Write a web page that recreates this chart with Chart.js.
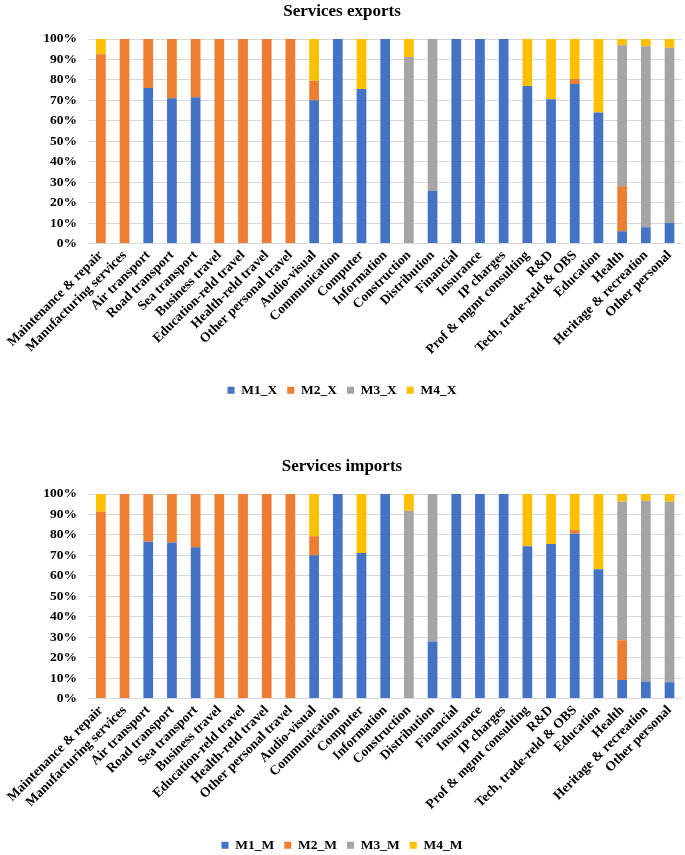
<!DOCTYPE html>
<html>
<head>
<meta charset="utf-8">
<script src="https://cdn.jsdelivr.net/npm/chart.js@4"></script>
<style>
  html, body { margin: 0; padding: 0; background: #fff; overflow: hidden; }
  body { width: 685px; height: 855px; position: relative; }
  .box { position: absolute; left: 0; width: 685px; height: 407px; }
</style>
</head>
<body>
<div class="box" style="top:0px"><canvas id="c1" width="685" height="407"></canvas></div>
<div class="box" style="top:455px"><canvas id="c2" width="685" height="407"></canvas></div>
<script>
const categories = [
  "Maintenance & repair", "Manufacturing services", "Air transport", "Road transport",
  "Sea transport", "Business travel", "Education-reld travel", "Health-reld travel",
  "Other personal travel", "Audio-visual", "Communication", "Computer", "Information",
  "Construction", "Distribution", "Financial", "Insurance", "IP charges",
  "Prof & mgmt consulting", "R&D", "Tech, trade-reld & OBS", "Education", "Health",
  "Heritage & recreation", "Other personal"
];

// Services exports shares (%)
const M1_X = [0, 0, 76, 71, 71.5, 0, 0, 0, 0, 70, 100, 75.6, 100, 0, 25.7, 100, 100, 100, 77, 70.5, 78, 64, 6, 8, 10];
const M2_X = [92.5, 100, 24, 29, 28.5, 100, 100, 100, 100, 9.6, 0, 0, 0, 0, 0, 0, 0, 0, 0, 0, 2.5, 0, 22, 0, 0];
const M3_X = [0, 0, 0, 0, 0, 0, 0, 0, 0, 0, 0, 0, 0, 91.2, 74.3, 0, 0, 0, 0, 0, 0, 0, 69, 88.5, 85.7];
const M4_X = [7.5, 0, 0, 0, 0, 0, 0, 0, 0, 20.4, 0, 24.4, 0, 8.8, 0, 0, 0, 0, 23, 29.5, 19.5, 36, 3, 3.5, 4.3];

// Services imports shares (%)
const M1_M = [0, 0, 76.6, 76.3, 73.9, 0, 0, 0, 0, 70.1, 100, 71.1, 100, 0, 27.9, 100, 100, 100, 74.4, 75.5, 80.6, 63.2, 9, 8.3, 8];
const M2_M = [91.3, 100, 23.4, 23.7, 26.1, 100, 100, 100, 100, 9.2, 0, 0, 0, 0, 0, 0, 0, 0, 0, 0, 1.8, 0, 19.5, 0, 0];
const M3_M = [0, 0, 0, 0, 0, 0, 0, 0, 0, 0, 0, 0, 0, 91.8, 72.1, 0, 0, 0, 0, 0, 0, 0, 67.7, 88.4, 88.2];
const M4_M = [8.7, 0, 0, 0, 0, 0, 0, 0, 0, 20.7, 0, 28.9, 0, 8.2, 0, 0, 0, 0, 25.6, 24.5, 17.6, 36.8, 3.8, 3.3, 3.8];

const yTicks = [0, 10, 20, 30, 40, 50, 60, 70, 80, 90, 100];

const COLORS = ["#4472C4", "#ED7D31", "#A5A5A5", "#FFC000"];
const FAMILY = "'Liberation Serif', 'Times New Roman', 'DejaVu Serif', serif";

function makeChart(id, title, names, series) {
  const datasets = series.map((d, i) => ({
    label: names[i],
    data: d,
    backgroundColor: COLORS[i],
    borderWidth: 0,
    categoryPercentage: 1.0,
    barPercentage: 0.41
  }));
  return new Chart(document.getElementById(id), {
    type: 'bar',
    data: { labels: categories, datasets: datasets },
    options: {
      responsive: false,
      animation: false,
      devicePixelRatio: 1,
      layout: { padding: { left: 0, right: 1, top: 0, bottom: 0 } },
      plugins: {
        title: {
          display: true,
          text: title,
          color: '#000',
          font: { family: FAMILY, size: 17, weight: 'bold' },
          padding: { top: 1, bottom: 17.6 }
        },
        legend: {
          display: true,
          position: 'bottom',
          labels: {
            boxWidth: 7,
            boxHeight: 7,
            padding: 10,
            color: '#000',
            font: { family: FAMILY, size: 13.5, weight: 'bold' }
          }
        },
        tooltip: { enabled: false }
      },
      scales: {
        x: {
          stacked: true,
          grid: { display: false, drawTicks: false },
          border: { display: true, color: '#D9D9D9', width: 1 },
          ticks: {
            autoSkip: false,
            maxRotation: 45,
            minRotation: 45,
            padding: 4,
            color: '#000',
            font: { family: FAMILY, size: 13.5, weight: 'bold' }
          },
          afterFit: (s) => { s.height = 130; }
        },
        y: {
          stacked: true,
          min: 0,
          max: 100,
          afterBuildTicks: (s) => { s.ticks = yTicks.map(v => ({ value: v })); },
          grid: { color: '#D9D9D9', lineWidth: 1, drawTicks: false },
          border: { display: false },
          ticks: {
            padding: 12,
            color: '#000',
            font: { family: FAMILY, size: 13.5, weight: 'bold' },
            callback: (v) => v + '%'
          },
          afterFit: (s) => { s.width = 89; }
        }
      }
    }
  });
}

makeChart('c1', 'Services exports', ['M1_X', 'M2_X', 'M3_X', 'M4_X'], [M1_X, M2_X, M3_X, M4_X]);
makeChart('c2', 'Services imports', ['M1_M', 'M2_M', 'M3_M', 'M4_M'], [M1_M, M2_M, M3_M, M4_M]);
</script>
</body>
</html>
